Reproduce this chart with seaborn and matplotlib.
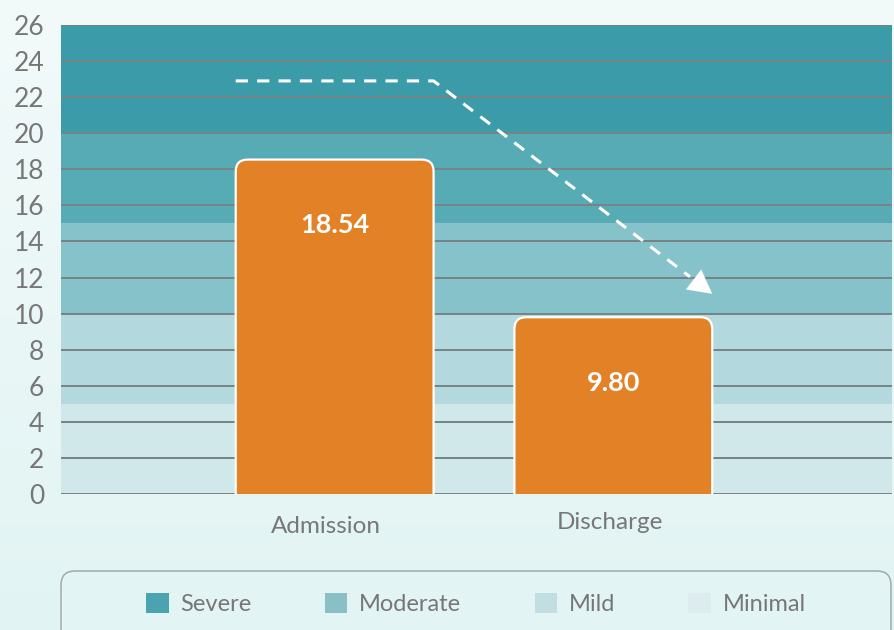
import numpy as np
import pandas as pd
import matplotlib
matplotlib.use("Agg")
import matplotlib.pyplot as plt
import matplotlib.patches as mpatches
from matplotlib.transforms import IdentityTransform, ScaledTranslation
import seaborn as sns

# ---- data ----
categories = ["Admission", "Discharge"]
scores = [18.54, 9.80]
y_ticks = [0, 2, 4, 6, 8, 10, 12, 14, 16, 18, 20, 22, 24, 26]
band_edges = [0, 5, 10, 15, 20, 26]
band_colors = ["#D1E8EA", "#B3D9DE", "#86C2CA", "#57ABB5", "#3C9BA9"]
legend_labels = ["Severe", "Moderate", "Mild", "Minimal"]
legend_colors = ["#4AA3AF", "#8ABFC8", "#C2DEE2", "#DDEDEF"]
trend_y = [22.9, 22.9, 11.1]   # dashed trend arrow levels

sns.set_theme(style="white")
plt.rcParams["font.family"] = ["Lato", "DejaVu Sans"]

W, H, DPI = 895, 630, 100
fig = plt.figure(figsize=(W / DPI, H / DPI), dpi=DPI)

# background gradient
bg = fig.add_axes([0, 0, 1, 1], zorder=-10)
top_c = np.array([0xF3, 0xFA, 0xFA]) / 255
bot_c = np.array([0xE1, 0xF4, 0xF3]) / 255
t = np.linspace(0, 1, 256)[:, None]
grad = top_c[None, :] * (1 - t) + bot_c[None, :] * t
bg.imshow(grad[:, None, :], aspect="auto", extent=[0, 1, 0, 1])
bg.set_axis_off()

ax = fig.add_axes([61 / W, (H - 494) / H, 831 / W, 469 / H])
ax.set_facecolor("none")

df = pd.DataFrame({"stage": categories, "score": scores})
bar_w = 0.71
sns.barplot(data=df, x="stage", y="score", ax=ax, width=bar_w,
            color="#E38127", saturation=1, zorder=3)
bars = list(ax.patches)

xlim = (-0.982, 2.0)
ylim = (0, 26)
ax.set_xlim(*xlim)
ax.set_ylim(*ylim)

# severity bands
for i in range(len(band_colors)):
    ax.axhspan(band_edges[i], band_edges[i + 1], color=band_colors[i], lw=0, zorder=0)

# grid lines
for yv in y_ticks:
    ax.axhline(yv, color="#778385", lw=1.4, zorder=1)

# rounded bars
px_x = 831 / (xlim[1] - xlim[0])
px_y = 469 / (ylim[1] - ylim[0])
aspect = px_x / px_y
r = 12 / px_x
for p in bars:
    x0, w, h = p.get_x(), p.get_width(), p.get_height()
    fc = p.get_facecolor()
    p.remove()
    fb = mpatches.FancyBboxPatch((x0, -2), w, h + 2,
                                 boxstyle=f"round,pad=0,rounding_size={r}",
                                 mutation_aspect=aspect, facecolor=fc,
                                 edgecolor="white", lw=1.6, zorder=3)
    ax.add_patch(fb)
    ax.annotate(f"{h:.2f}", xy=(x0 + w / 2, h), xytext=(0, -47),
                textcoords="offset points", ha="center", va="center",
                color="white", fontsize=19.5, fontweight="bold", zorder=5)

# dashed trend arrow
xs = [-bar_w / 2, bar_w / 2, 1 + bar_w / 2]
dx = xs[2] - xs[1]
dy = trend_y[2] - trend_y[1]
f = 0.92
ax.plot([xs[0], xs[1], xs[1] + dx * f], [trend_y[0], trend_y[1], trend_y[1] + dy * f],
        color="white", lw=2.2, ls=(0, (4, 3)), zorder=4, solid_capstyle="butt")
ax.annotate("", xy=(xs[2], trend_y[2]), xytext=(xs[1] + dx * 0.9, trend_y[1] + dy * 0.9),
            arrowprops=dict(arrowstyle="-|>,head_length=1.4,head_width=0.75",
                            color="white", lw=0.1, shrinkA=0, shrinkB=0), zorder=4)

# axes styling
for s in ax.spines.values():
    s.set_visible(False)
ax.set_yticks(y_ticks)
ax.set_yticklabels([str(v) for v in y_ticks])
ax.tick_params(axis="y", length=0, pad=12, labelsize=19, labelcolor="#777777")
ax.tick_params(axis="x", length=0, pad=13, labelsize=17.5, labelcolor="#777777")
ax.set_xlabel("")
ax.set_ylabel("")
offs = [(-9, -4), (-3, 0)]
for lab, (ox, oy) in zip(ax.get_xticklabels(), offs):
    lab.set_transform(lab.get_transform() + ScaledTranslation(ox / DPI, oy / DPI, fig.dpi_scale_trans))

# legend box
box = mpatches.FancyBboxPatch((61, -20), 830, (H - 571) + 20,
                              boxstyle="round,pad=0,rounding_size=14",
                              transform=IdentityTransform(), facecolor="#E3F4F4",
                              edgecolor="#A3AAAB", lw=1.1, zorder=-5)
fig.patches.append(box)

handles = [mpatches.Patch(facecolor=c, edgecolor="none") for c in legend_colors]
leg = fig.legend(handles, legend_labels, loc="center", bbox_to_anchor=(476 / W, (H - 604) / H),
                 ncol=4, frameon=False, fontsize=17, handlelength=0.95, handleheight=0.95,
                 handletextpad=0.5, columnspacing=3.1)
for txt in leg.get_texts():
    txt.set_color("#777777")

fig.savefig("out.png", dpi=DPI)
